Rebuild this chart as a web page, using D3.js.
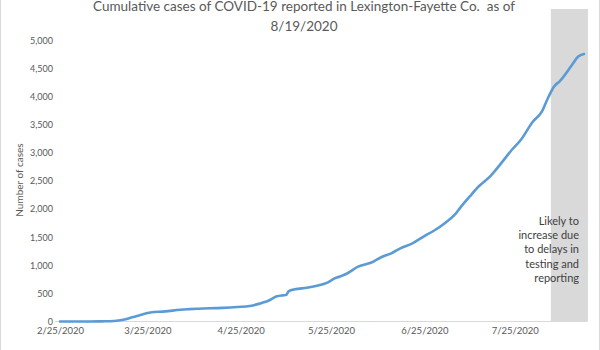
<!DOCTYPE html>
<html><head><meta charset="utf-8">
<script src="https://cdn.jsdelivr.net/npm/d3@7"></script>
<style>body{margin:0;background:#fff}svg{display:block}</style>
</head><body><svg id="c" width="600" height="350"></svg>
<script>
const dates = ["2/25/2020","3/1/2020","3/6/2020","3/10/2020","3/14/2020","3/17/2020","3/20/2020","3/23/2020","3/26/2020","3/31/2020","4/5/2020","4/8/2020","4/11/2020","4/19/2020","4/24/2020","4/28/2020","4/30/2020","5/2/2020","5/4/2020","5/7/2020","5/9/2020","5/10/2020","5/11/2020","5/13/2020","5/17/2020","5/20/2020","5/24/2020","5/26/2020","5/28/2020","5/30/2020","6/3/2020","6/8/2020","6/11/2020","6/14/2020","6/17/2020","6/21/2020","6/25/2020","6/28/2020","7/2/2020","7/5/2020","7/7/2020","7/10/2020","7/13/2020","7/17/2020","7/20/2020","7/24/2020","7/27/2020","7/31/2020","8/3/2020","8/5/2020","8/7/2020","8/9/2020","8/13/2020","8/15/2020","8/17/2020"];
const cases = [0,0,1,3,8,30,75,120,160,180,210,220,228,242,258,275,300,330,365,448,465,470,542,572,600,631,697,761,800,845,975,1063,1152,1212,1301,1390,1520,1609,1757,1894,2030,2219,2400,2590,2780,3049,3227,3553,3731,3969,4175,4276,4561,4708,4756];
const xTickLabels = ["2/25/2020","3/25/2020","4/25/2020","5/25/2020","6/25/2020","7/25/2020"];
const yTicks = [0,500,1000,1500,2000,2500,3000,3500,4000,4500,5000];
const axisStart = "2/25/2020", axisEnd = "8/18/2020";
const bandStart = "8/5/2020", bandEnd = "8/18/2020";
const titleLines = ["Cumulative cases of COVID-19 reported in Lexington-Fayette Co.  as of","8/19/2020"];
const yTitle = "Number of cases";
const noteLines = ["Likely to","increase due","to delays in","testing and","reporting"];

const parse = d3.timeParse("%m/%d/%Y");
const svg = d3.select("#c");
const font = "Lato, 'Open Sans', sans-serif";
const x = d3.scaleTime().domain([parse(axisStart), parse(axisEnd)]).range([60, 587]);
const y = d3.scaleLinear().domain([0, 5000]).range([321.5, 40.3]);

// outer frame
svg.append("rect").attr("x",0.5).attr("y",-5).attr("width",599).attr("height",360)
  .attr("fill","none").attr("stroke","#d9d9d9");

// x axis line
svg.append("line").attr("x1",55).attr("x2",587).attr("y1",y(0)).attr("y2",y(0))
  .attr("stroke","#d9d9d9").attr("stroke-width",1);

// band
const bx0 = x(parse(bandStart)) + 3, bx1 = x(parse(bandEnd)) + 1;
svg.append("rect").attr("x",bx0).attr("y",9).attr("width",bx1-bx0).attr("height",y(0)-9)
  .attr("fill","#d9d9d9");

// y axis labels
const yAxis = d3.axisLeft(y).tickValues(yTicks).tickFormat(d3.format(",")).tickSize(0).tickPadding(0);
const ya = svg.append("g").attr("transform","translate(53,0)").call(yAxis);
ya.select(".domain").remove();
ya.selectAll("text").attr("font-family",font).attr("font-size",9).attr("fill","#595959");

// x axis labels
const xAxis = d3.axisBottom(x).tickValues(xTickLabels.map(parse)).tickFormat(d3.timeFormat("%-m/%-d/%Y")).tickSize(0).tickPadding(0);
const xa = svg.append("g").attr("transform","translate(0,327)").call(xAxis);
xa.select(".domain").remove();
xa.selectAll("text").attr("font-family",font).attr("font-size",9.5).attr("fill","#595959");

// line
const data = dates.map((d,i)=>({d:parse(d), v:cases[i]}));
svg.append("path").datum(data)
  .attr("d", d3.line().x(p=>x(p.d)).y(p=>y(p.v)).curve(d3.curveMonotoneX))
  .attr("fill","none").attr("stroke","#5b9bd5").attr("stroke-width",2.6)
  .attr("stroke-linejoin","round").attr("stroke-linecap","round");

// title
svg.append("g").selectAll("text").data(titleLines).join("text")
  .attr("x",304).attr("y",(d,i)=>11+i*20).attr("text-anchor","middle")
  .style("white-space","pre")
  .attr("font-family",font).attr("font-size",13.5).attr("fill","#595959").text(d=>d);

// y title
svg.append("text").attr("transform","translate(23,180) rotate(-90)").attr("text-anchor","middle")
  .attr("font-family",font).attr("font-size",10).attr("fill","#595959").text(yTitle);

// note
svg.append("g").selectAll("text").data(noteLines).join("text")
  .attr("x",579).attr("y",(d,i)=>225+i*14.2).attr("text-anchor","end")
  .attr("font-family",font).attr("font-size",11).attr("fill","#404040").text(d=>d);
</script></body></html>
